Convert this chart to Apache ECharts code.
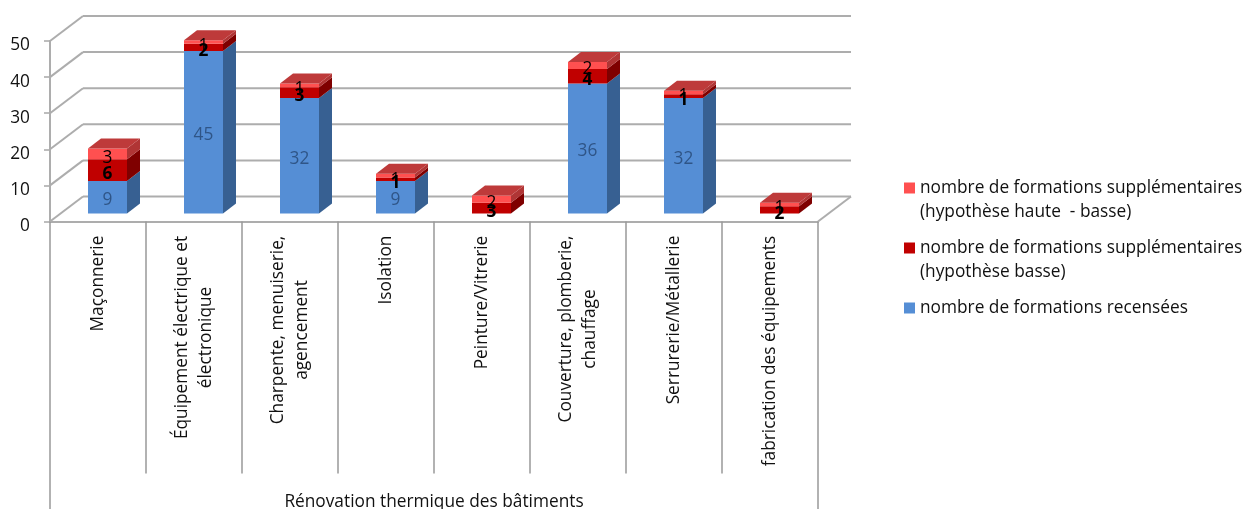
<!DOCTYPE html>
<html lang="fr">
<head>
<meta charset="utf-8">
<title>Formations par métier</title>
<style>html,body{margin:0;padding:0;background:#fff}#chart{width:1245px;height:509px}</style>
<script src="https://cdn.jsdelivr.net/npm/echarts@6/dist/echarts.min.js"></script>
</head>
<body>
<div id="chart"></div>
<script>
// Chart data
const categories = [
  "Maçonnerie",
  "Équipement électrique et\nélectronique",
  "Charpente, menuiserie,\nagencement",
  "Isolation",
  "Peinture/Vitrerie",
  "Couverture, plomberie,\nchauffage",
  "Serrurerie/Métallerie",
  "fabrication des équipements"
];
const groupLabel = ["Rénovation thermique des bâtiments"];
const recensees = [9, 45, 32, 9, 0, 36, 32, 0];
const hypBasse = [6, 2, 3, 1, 3, 4, 1, 2];
const hypHaute = [3, 1, 1, 1, 2, 2, 1, 1];
const yTicks = [0, 10, 20, 30, 40, 50];

const nameRecensees = "nombre de formations recensées";
const nameBasse = "nombre de formations supplémentaires\n(hypothèse basse)";
const nameHaute = "nombre de formations supplémentaires\n(hypothèse haute  - basse)";

// Drawing settings
const FONT = '"Open Sans", sans-serif';
const SIZE = 17.3;
const GRID = { left: 50, top: 41, width: 768, height: 180.5, outerBoundsMode: "none" };
const WALL = { dx: 33, dy: -25 };   // depth of the chart box
const BAR = { width: 39, shift: -10, lift: -8, dx: 13, dy: -10 };  // depth and placement of the columns
const LINE = "#ADADAD";
const TICK = "#999999";

// Width of the longest line, so that wrapped labels stay centred on each other
const ctx = document.createElement("canvas").getContext("2d");
ctx.font = SIZE + "px " + FONT;
const rich = {};
categories.forEach((c, i) => {
  const w = Math.max(...c.split("\n").map(l => ctx.measureText(l).width));
  rich["c" + i] = { width: Math.ceil(w), align: "center", lineHeight: 24, fontSize: SIZE, fontFamily: FONT, color: "#111" };
});

// Stacks the segments of one column and draws its faces
function barRenderer(palette, labelColor, labelShift, fontWeight, isTop) {
  return function (params, api) {
    const i = api.value(0), from = api.value(1), amount = api.value(2);
    if (!amount) return { type: "group", children: [] };
    const pb = api.coord([i, from]), pt = api.coord([i, from + amount]);
    const x0 = pb[0] + BAR.shift, x1 = x0 + BAR.width;
    const yb = pb[1] + BAR.lift, yt = pt[1] + BAR.lift;
    const children = [
      { type: "polygon", shape: { points: [[x1, yb], [x1 + BAR.dx, yb + BAR.dy], [x1 + BAR.dx, yt + BAR.dy], [x1, yt]] }, style: { fill: palette.side } },
      { type: "rect", shape: { x: x0, y: yt, width: BAR.width, height: yb - yt }, style: { fill: palette.front } }
    ];
    if (isTop) {
      children.push({ type: "polygon", shape: { points: [[x0, yt], [x1, yt], [x1 + BAR.dx, yt + BAR.dy], [x0 + BAR.dx, yt + BAR.dy]] }, style: { fill: palette.top } });
    }
    children.push({
      type: "text", z2: 100,
      style: {
        x: (x0 + x1) / 2, y: (yb + yt) / 2 + labelShift, text: String(amount),
        fill: labelColor, font: fontWeight + " " + SIZE + "px " + FONT, textAlign: "center", textVerticalAlign: "middle"
      }
    });
    return { type: "group", children };
  };
}

function segmentData(values, below) {
  return values.map((v, i) => [i, below.reduce((s, a) => s + a[i], 0), v]);
}

// Back wall, side wall and floor edge of the box
function renderWalls(params, api) {
  const v = api.value(0);
  const y = api.coord([0, v])[1];
  const left = params.coordSys.x, right = left + params.coordSys.width;
  const style = { stroke: LINE, lineWidth: 2, fill: null };
  const children = [
    { type: "line", shape: { x1: left, y1: y, x2: left + WALL.dx, y2: y + WALL.dy }, style },
    { type: "line", shape: { x1: left + WALL.dx, y1: y + WALL.dy, x2: right + WALL.dx, y2: y + WALL.dy }, style }
  ];
  if (v === 0) {
    children.push({ type: "line", shape: { x1: right, y1: y, x2: right + WALL.dx, y2: y + WALL.dy }, style });
  }
  return { type: "group", children };
}

const chart = echarts.init(document.getElementById("chart"));
chart.setOption({
  animation: false,
  backgroundColor: "#fff",
  textStyle: { fontFamily: FONT },
  grid: GRID,
  legend: {
    left: 904, top: 152, padding: 0, orient: "vertical", itemGap: -12, itemWidth: 11, itemHeight: 11, icon: "rect",
    data: [nameHaute, nameBasse, nameRecensees],
    // The empty first line keeps each marker level with the first line of its text
    formatter: n => "\n" + n + (n.includes("\n") ? "" : "\n"),
    textStyle: { fontFamily: FONT, fontSize: SIZE, color: "#111", lineHeight: 24 }
  },
  xAxis: [
    {
      type: "category", data: categories, boundaryGap: true,
      axisLine: { lineStyle: { color: LINE, width: 2 } },
      axisTick: { show: true, alignWithLabel: false, length: 252, lineStyle: { color: TICK, width: 1.5 } },
      axisLabel: {
        rotate: 90, margin: 14, interval: 0, hideOverlap: false,
        formatter: (v, i) => v.split("\n").map(l => "{c" + i + "|" + l + "}").join("\n"),
        rich
      }
    },
    {
      type: "category", data: groupLabel, boundaryGap: true, position: "bottom",
      axisLine: { show: false },
      axisTick: { show: true, alignWithLabel: false, length: 288, lineStyle: { color: TICK, width: 1.5 } },
      axisLabel: { margin: 272, fontSize: SIZE, fontFamily: FONT, color: "#111" }
    }
  ],
  yAxis: {
    type: "value", min: 0, max: 50, interval: 10,
    splitLine: { show: false },
    axisLine: { show: true, lineStyle: { color: LINE, width: 2 } },
    axisTick: { show: true, length: 6, lineStyle: { color: LINE, width: 1.6 } },
    axisLabel: { margin: 20, verticalAlign: "top", lineHeight: 9, fontSize: SIZE, fontFamily: FONT, color: "#111" }
  },
  series: [
    { type: "custom", name: "parois", silent: true, data: yTicks.map(v => [v]), renderItem: renderWalls, z: 1 },
    {
      type: "custom", name: nameRecensees, silent: true, itemStyle: { color: "#558ED5" },
      data: segmentData(recensees, []),
      renderItem: barRenderer({ front: "#558ED5", side: "#376092", top: "#7fa8dc" }, "#2f5587", 3, "normal", false)
    },
    {
      type: "custom", name: nameBasse, silent: true, itemStyle: { color: "#C00000" },
      data: segmentData(hypBasse, [recensees]),
      renderItem: barRenderer({ front: "#C00000", side: "#7F0000", top: "#BE3A3A" }, "#000", 4, "bold", false)
    },
    {
      type: "custom", name: nameHaute, silent: true, itemStyle: { color: "#FF5050" },
      data: segmentData(hypHaute, [recensees, hypBasse]),
      renderItem: barRenderer({ front: "#FF5050", side: "#B03535", top: "#BE3A3A" }, "#000", 4, "normal", true)
    }
  ]
});
</script>
</body>
</html>
